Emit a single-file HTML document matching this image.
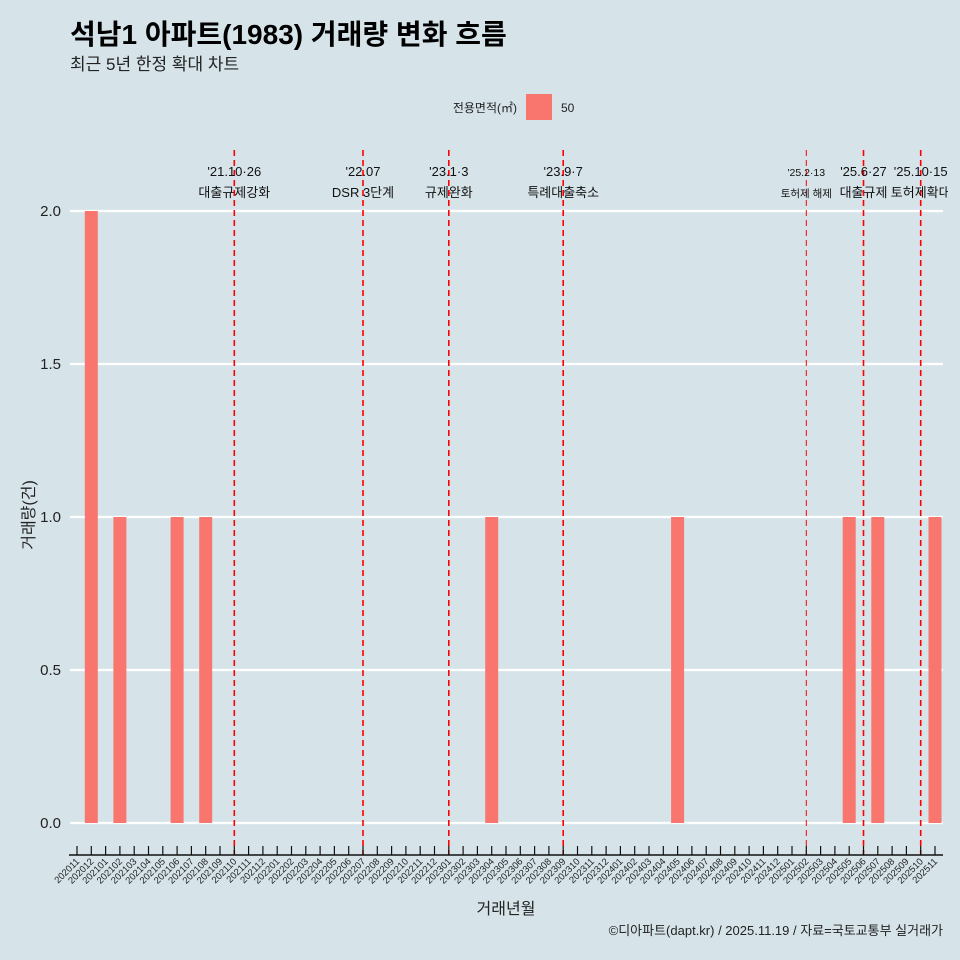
<!DOCTYPE html>
<html><head><meta charset="utf-8"><style>
html,body{margin:0;padding:0;background:#d6e4ea;}
svg{display:block;font-family:"Liberation Sans","Noto Sans CJK KR",sans-serif;}
</style></head><body>
<svg id="chart" width="960" height="960" xmlns="http://www.w3.org/2000/svg">
<defs><clipPath id="clipR"><rect x="0" y="0" width="948" height="960"/></clipPath></defs>
<rect x="0" y="0" width="960" height="960" fill="#d6e4ea"/>
<text x="70" y="44" font-size="28" font-weight="bold" fill="#000">석남1 아파트(1983) 거래량 변화 흐름</text>
<text x="70" y="70" font-size="17" fill="#222">최근 5년 한정 확대 차트</text>
<g>
<text x="517" y="112" font-size="12" text-anchor="end" fill="#222">전용면적(㎡)</text>
<rect x="526" y="94" width="26" height="26" fill="#f8766d"/>
<text x="561" y="112" font-size="12" fill="#222">50</text>
</g>
<g id="grid"></g><g id="bars"></g><g id="vlines" clip-path="url(#clipR)"></g><g id="axes"></g>
<text transform="translate(34,515) rotate(-90)" font-size="16" text-anchor="middle" fill="#222">거래량(건)</text>
<text x="506" y="914" font-size="16" text-anchor="middle" fill="#222">거래년월</text>
<text x="943" y="935" font-size="13" text-anchor="end" fill="#222">©디아파트(dapt.kr) / 2025.11.19 / 자료=국토교통부 실거래가</text>
</svg>
<script>
const months = [];
for (let y = 2020, m = 11; months.length < 61; ) { months.push(String(y) + String(m).padStart(2, '0')); m++; if (m > 12) { m = 1; y++; } }
const barMonths = ['202012','202102','202106','202108','202304','202405','202505','202507','202511'];
const barValues = [2,1,1,1,1,1,1,1,1];
const yTicks = [0,0.5,1,1.5,2];
const yTickLabels = ['0.0','0.5','1.0','1.5','2.0'];
const eventMonths = ['202110','202207','202301','202309','202502','202506','202510'];
const eventDates = ["'21.10·26","'22.07","'23.1·3","'23.9·7","'25.2·13","'25.6·27","'25.10·15"];
const eventNames = ['대출규제강화','DSR 3단계','규제완화','특례대출축소','토허제 해제','대출규제','토허제확대'];

const NS = 'http://www.w3.org/2000/svg';
const x = m => 77 + months.indexOf(m) * 14.3;
const y = v => 823 - v * 306;
function mk(tag, attrs, parent, text) {
  const el = document.createElementNS(NS, tag);
  for (const k in attrs) el.setAttribute(k, attrs[k]);
  if (text !== undefined) el.textContent = text;
  document.getElementById(parent).appendChild(el);
  return el;
}
yTicks.forEach((t, i) => {
  const g = mk('line', {x1: 70, x2: 943, y1: y(t), y2: y(t), stroke: '#fff', 'stroke-width': 2.2}, 'grid');
  
  
  const l = mk('text', {x: 61, y: y(t) + 5, 'font-size': 15, 'text-anchor': 'end', fill: '#222'}, 'grid', yTickLabels[i]);
  
  
});
barMonths.forEach((m, i) => {
  const b = mk('rect', {x: x(m) - 6.5, y: y(barValues[i]), width: 13, height: y(0) - y(barValues[i]), fill: '#f8766d'}, 'bars');
  
  
});
eventMonths.forEach((m, i) => {
  const thin = m === '202502';
  const l = mk('line', {x1: x(m), x2: x(m), y1: 150, y2: 855, stroke: '#ff0000', 'stroke-width': thin ? 1 : 1.6, 'stroke-dasharray': '6 4'}, 'vlines');
  
  
  const fs = thin ? 10.5 : 13;
  const d = mk('text', {x: x(m), y: 176, 'font-size': fs, 'text-anchor': 'middle', fill: '#111'}, 'vlines', eventDates[i]);
  
  
  const n = mk('text', {x: x(m), y: 197, 'font-size': fs, 'text-anchor': 'middle', fill: '#111'}, 'vlines', eventNames[i]);
  
  
});
const ax = mk('line', {x1: 69, x2: 943, y1: 855, y2: 855, stroke: '#111', 'stroke-width': 1.5}, 'axes');


months.forEach(m => {
  const t = mk('line', {x1: x(m), x2: x(m), y1: 846, y2: 855, stroke: '#111', 'stroke-width': 1.2}, 'axes');
  
  
  const l = mk('text', {transform: 'translate(' + (x(m) + 3) + ',862) rotate(-45)', 'font-size': 9.5, 'text-anchor': 'end', fill: '#222'}, 'axes', m);
  
  
});
</script>
</body></html>
